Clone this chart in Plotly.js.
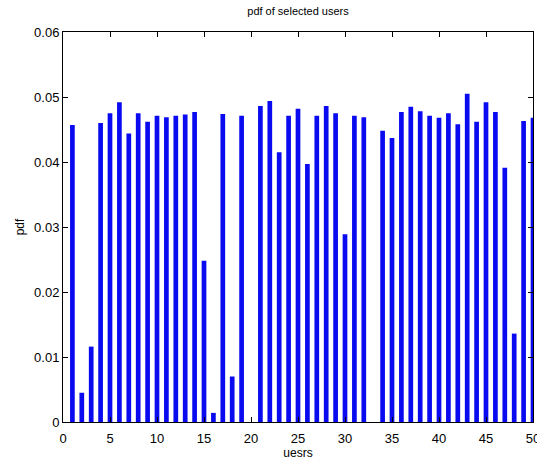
<!DOCTYPE html>
<html>
<head>
<meta charset="utf-8">
<script src="https://cdn.plot.ly/plotly-3.0.1.min.js"></script>
<style>html,body{margin:0;padding:0;background:#fff;}#chart{width:537px;height:463px;}</style>
</head>
<body>
<div id="chart"></div>
<script>
const users = [];
for (let i = 1; i <= 50; i++) users.push(i);
const pdfValues = [
  0.0457, 0.0045, 0.0116, 0.0460, 0.0475, 0.0492, 0.0444, 0.0475, 0.0462, 0.0471,
  0.0469, 0.0471, 0.0473, 0.0477, 0.0248, 0.0014, 0.0474, 0.0070, 0.0471, 0.0000,
  0.0486, 0.0494, 0.0415, 0.0471, 0.0482, 0.0397, 0.0471, 0.0486, 0.0475, 0.0289,
  0.0471, 0.0469, 0.0000, 0.0448, 0.0437, 0.0477, 0.0485, 0.0478, 0.0471, 0.0468,
  0.0475, 0.0458, 0.0505, 0.0462, 0.0492, 0.0477, 0.0391, 0.0136, 0.0463, 0.0468
];
const xTicks = [0, 5, 10, 15, 20, 25, 30, 35, 40, 45, 50];
const yTicks = [0, 0.01, 0.02, 0.03, 0.04, 0.05, 0.06];
const yTickText = ['0', '0.01', '0.02', '0.03', '0.04', '0.05', '0.06'];

const trace = {
  type: 'bar',
  x: users,
  y: pdfValues,
  width: 0.5,
  marker: {color: 'rgb(10,10,240)', line: {width: 0}},
  hoverinfo: 'x+y'
};

const axisFont = {family: 'Liberation Sans, Arial, sans-serif', size: 13, color: '#000'};
const layout = {
  width: 537, height: 463,
  margin: {l: 63, r: 4, t: 32, b: 41, pad: 0},
  paper_bgcolor: '#fff', plot_bgcolor: '#fff',
  showlegend: false,
  font: axisFont,
  title: {text: 'pdf of selected users', font: {family: 'Liberation Sans, Arial, sans-serif', size: 11, color: '#000'}, x: 0.555, xanchor: 'center', y: 0.975, yanchor: 'middle'},
  xaxis: {
    range: [0, 50], tickmode: 'array', tickvals: xTicks,
    ticks: 'inside', ticklen: 5, tickcolor: '#000',
    showline: true, linecolor: '#000', linewidth: 1, mirror: 'ticks',
    showgrid: false, zeroline: false,
    tickfont: axisFont, ticklabeloverflow: 'allow', ticklabelstandoff: 4,
    title: {text: 'uesrs', font: {family: 'Liberation Sans, Arial, sans-serif', size: 12, color: '#000'}, standoff: 4}
  },
  yaxis: {
    range: [0, 0.06], tickmode: 'array', tickvals: yTicks, ticktext: yTickText,
    ticks: 'inside', ticklen: 5, tickcolor: '#000',
    showline: true, linecolor: '#000', linewidth: 1, mirror: 'ticks',
    showgrid: false, zeroline: false,
    tickfont: axisFont,
    title: {text: 'pdf', font: {family: 'Liberation Sans, Arial, sans-serif', size: 12, color: '#000'}, standoff: 6}
  },
  bargap: 0.5
};

Plotly.newPlot('chart', [trace], layout, {displayModeBar: false, staticPlot: true});
</script>
</body>
</html>
